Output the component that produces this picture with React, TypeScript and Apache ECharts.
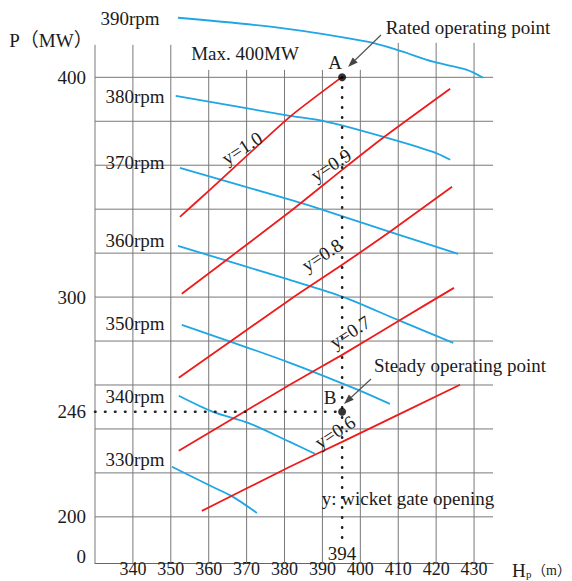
import React, { useEffect, useRef } from "react";
import * as echarts from "echarts";

// ---- axes / grid values ----
const xTicks = [340, 350, 360, 370, 380, 390, 400, 410, 420, 430];
const gridX = [330, 340, 350, 360, 370, 380, 390, 400, 410, 420, 430];
const gridXTop = [414.8, 414.8, 414.8, 403.4, 403.4, 403.4, 403.4, 403.4, 415.7, 415.7, 415.7];
const gridP = [200, 220, 240, 260, 280, 300, 320, 340, 360, 380, 400];
const yTickValues = [182, 200, 247.8, 300, 400];
const yTickLabels = ["0", "200", "246", "300", "400"];

// ---- rotational speed curves (Hp, P) ----
const rpm390 = [[351.9, 427.1], [378.8, 422.5], [401.8, 416.2], [409.7, 412.5], [419.2, 407.1], [428.1, 403.4], [432.4, 399.8]];
const rpm380 = [[351.3, 391.6], [381.4, 382.5], [390.1, 380.2], [405.2, 373.4], [419.2, 366.1], [423.7, 362.5]];
const rpm370 = [[352.4, 358.8], [381.4, 344.3], [390.1, 339.7], [407.8, 329.7], [425.8, 319.7]];
const rpm360 = [[351.9, 323.3], [381.4, 307.8], [395.4, 300.1], [409.9, 289.6], [424.5, 279.2]];
const rpm350 = [[352.9, 287.4], [381.4, 270.1], [399.4, 257.8], [407.8, 251.4]];
const rpm340 = [[352.1, 255.1], [361.1, 247.8], [370.4, 242.8], [381.4, 234.1], [388.0, 228.7]];
const rpm330 = [[350.3, 222.8], [361.1, 213.6], [366.4, 209.1], [372.7, 201.8]];
const rpmNames = ["390rpm", "380rpm", "370rpm", "360rpm", "350rpm", "340rpm", "330rpm"];

// ---- wicket gate opening lines (Hp, P) ----
const gate10 = [[352.4, 336.5], [360.3, 348.8], [381.4, 382.0], [395.2, 400.2]];
const gate09 = [[352.9, 301.5], [381.4, 338.8], [395.2, 357.9], [406.0, 372.5], [423.7, 394.8]];
const gate08 = [[352.1, 263.3], [381.4, 298.8], [395.2, 314.7], [407.8, 329.7], [424.2, 350.2]];
const gate07 = [[352.1, 230.1], [381.4, 260.1], [395.2, 273.7], [410.5, 289.6], [424.7, 304.2]];
const gate06 = [[358.2, 202.7], [381.4, 222.8], [395.2, 234.1], [426.3, 260.1]];
const gateNames = ["y=1.0", "y=0.9", "y=0.8", "y=0.7", "y=0.6"];

// ---- operating points ----
const ratedPoint = [395.2, 400];
const steadyPoint = [395.2, 247.8];
const ratedHeadLabel = "394";
const dottedBottomP = 189.5;

const FONT = "'Liberation Serif', 'Times New Roman', 'Noto Sans CJK SC', serif";
const TXT = "#1b1b1b";
const BLUE = "#1fa6e4";
const RED = "#ee1b1b";
const GRID = "#787878";

function text(x: number, y: number, t: string, extra: any = {}) {
  return {
    type: "text",
    x,
    y,
    silent: true,
    z: 20,
    style: {
      text: t,
      fontSize: 19,
      fontFamily: FONT,
      fill: TXT,
      textAlign: "center",
      textVerticalAlign: "middle",
      ...(extra.style || {}),
    },
    ...(extra.rotation !== undefined ? { rotation: extra.rotation } : {}),
  };
}

function arrow(x1: number, y1: number, x2: number, y2: number) {
  const dx = x2 - x1;
  const dy = y2 - y1;
  const len = Math.sqrt(dx * dx + dy * dy);
  const ux = dx / len;
  const uy = dy / len;
  const bx = x2 - ux * 10;
  const by = y2 - uy * 10;
  const nx = -uy;
  const ny = ux;
  return [
    {
      type: "line",
      silent: true,
      z: 20,
      shape: { x1, y1, x2: bx, y2: by },
      style: { stroke: "#555", lineWidth: 1.2 },
    },
    {
      type: "polygon",
      silent: true,
      z: 20,
      shape: {
        points: [
          [x2, y2],
          [bx + nx * 3.6, by + ny * 3.6],
          [bx - nx * 3.6, by - ny * 3.6],
        ],
      },
      style: { fill: "#444" },
    },
  ];
}

export default function App() {
  const ref = useRef<HTMLDivElement>(null);

  useEffect(() => {
    if (!ref.current) return;
    const chart = echarts.init(ref.current, undefined, { renderer: "svg" });

    const gridSegments = [
      ...gridX.map((x, i) => [x, 179, x, gridXTop[i]]),
      ...gridP.map((p) => [330, p, 435, p]),
    ];

    const rpmCurves = [rpm390, rpm380, rpm370, rpm360, rpm350, rpm340, rpm330];
    const gateLines = [gate10, gate09, gate08, gate07, gate06];

    const series: any[] = [
      {
        type: "custom",
        name: "grid",
        silent: true,
        z: 1,
        data: gridSegments,
        encode: { x: [0, 2], y: [1, 3] },
        renderItem: (_p: any, api: any) => {
          const a = api.coord([api.value(0), api.value(1)]);
          const b = api.coord([api.value(2), api.value(3)]);
          return {
            type: "line",
            shape: { x1: a[0], y1: a[1], x2: b[0], y2: b[1] },
            style: { stroke: GRID, lineWidth: 1 },
          };
        },
      },
      ...rpmCurves.map((d, i) => ({
        type: "line",
        name: rpmNames[i],
        data: d,
        smooth: 0.3,
        showSymbol: false,
        silent: true,
        z: 3,
        lineStyle: { color: BLUE, width: 1.8 },
      })),
      ...gateLines.map((d, i) => ({
        type: "line",
        name: gateNames[i],
        data: d,
        smooth: 0.2,
        showSymbol: false,
        silent: true,
        z: 4,
        lineStyle: { color: RED, width: 1.8 },
      })),
      {
        type: "line",
        name: "vdots",
        data: [ratedPoint, [ratedPoint[0], dottedBottomP]],
        showSymbol: false,
        silent: true,
        z: 5,
        lineStyle: { color: "#222", width: 2.6, type: [0.5, 9.5], cap: "round" },
      },
      {
        type: "line",
        name: "hdots",
        data: [[330, steadyPoint[1]], steadyPoint],
        showSymbol: false,
        silent: true,
        z: 5,
        lineStyle: { color: "#222", width: 2.6, type: [0.5, 9.5], cap: "round" },
      },
      {
        type: "scatter",
        name: "points",
        data: [ratedPoint, steadyPoint],
        symbolSize: 8,
        silent: true,
        z: 6,
        itemStyle: { color: "#000" },
      },
    ];

    const rpmLabelPos = [
      [130, 18],
      [135, 96],
      [135, 162],
      [135, 240],
      [135, 323],
      [135, 396],
      [135, 459],
    ];
    const gateLabelPos = [
      [242, 148],
      [331, 165],
      [322, 255],
      [350, 332],
      [335, 432],
    ];
    const rot = (33 * Math.PI) / 180;

    const graphic: any[] = [
      ...rpmNames.map((n, i) => text(rpmLabelPos[i][0], rpmLabelPos[i][1], n)),
      ...gateNames.map((n, i) => text(gateLabelPos[i][0], gateLabelPos[i][1], n, { rotation: rot })),
      text(51, 40, "P（MW）"),
      text(245, 53, "Max. 400MW"),
      text(335, 62, "A"),
      text(330, 397, "B"),
      text(468, 27, "Rated operating point"),
      text(460, 365, "Steady operating point"),
      text(408, 498, "y: wicket gate opening"),
      text(342, 553, ratedHeadLabel, { style: { lineHeight: 14 } }),
      text(512, 570, "H", { style: { textAlign: "left", lineHeight: 16 } }),
      text(526, 574, "p", { style: { textAlign: "left", fontSize: 11, lineHeight: 10 } }),
      text(532, 570, "（m）", { style: { textAlign: "left", fontSize: 14, lineHeight: 15 } }),
      ...arrow(381, 35, 348, 67),
      ...arrow(371, 379, 344, 404),
    ];

    chart.setOption({
      animation: false,
      grid: { left: 95, right: 79, top: 7, bottom: 18, outerBoundsMode: "none", containLabel: false },
      xAxis: {
        type: "value",
        min: 330,
        max: 435,
        interval: 10,
        axisLine: { show: true, lineStyle: { color: "#666", width: 1.2 } },
        axisTick: { show: false },
        splitLine: { show: false },
        axisLabel: {
          customValues: xTicks,
          margin: 0,
          fontSize: 18,
          lineHeight: 12,
          fontFamily: FONT,
          color: TXT,
        },
      },
      yAxis: {
        type: "value",
        min: 179,
        max: 432,
        axisLine: { show: false },
        axisTick: { show: false },
        splitLine: { show: false },
        axisLabel: {
          customValues: yTickValues,
          margin: 9,
          fontSize: 19,
          fontFamily: FONT,
          color: TXT,
          formatter: (v: number) => {
            const i = yTickValues.findIndex((t) => Math.abs(t - v) < 1e-6);
            return i >= 0 ? yTickLabels[i] : "";
          },
        },
      },
      series,
      graphic,
    });

    return () => chart.dispose();
  }, []);

  return (
    <div
      ref={ref}
      style={{ position: "fixed", left: 0, top: 0, width: 572, height: 581, background: "#fff" }}
    />
  );
}
